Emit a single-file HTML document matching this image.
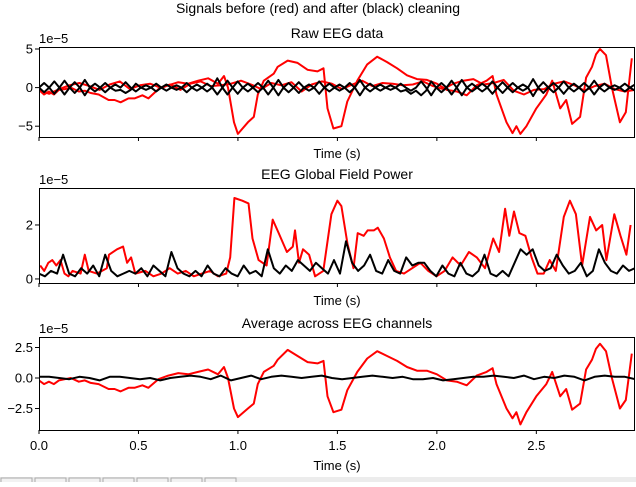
<!DOCTYPE html>
<html><head><meta charset="utf-8"><style>
body{margin:0;background:#fff;width:636px;height:482px;overflow:hidden;font-family:"Liberation Sans",sans-serif}
svg text{font-family:"Liberation Sans",sans-serif;fill:#000}
</style></head><body>
<svg id="c" width="636" height="482" xmlns="http://www.w3.org/2000/svg"></svg>
<script>
// ---- data ----
const avgRedT=[0,0.025,0.05,0.075,0.1,0.13,0.16,0.2,0.23,0.26,0.3,0.35,0.38,0.41,0.45,0.48,0.52,0.55,0.6,0.65,0.7,0.75,0.8,0.85,0.9,0.93,0.95,0.98,1.0,1.05,1.08,1.1,1.13,1.18,1.2,1.25,1.3,1.35,1.4,1.43,1.45,1.48,1.52,1.55,1.6,1.65,1.7,1.75,1.8,1.85,1.9,1.95,2.0,2.05,2.1,2.15,2.2,2.25,2.28,2.3,2.35,2.38,2.4,2.42,2.45,2.5,2.55,2.58,2.62,2.65,2.68,2.72,2.75,2.78,2.8,2.82,2.85,2.88,2.92,2.95,2.98];
const avgRedV=[-0.2,-0.5,-0.3,-0.5,-0.2,-0.1,0,-0.3,-0.2,-0.4,-0.5,-0.9,-0.9,-1.1,-0.8,-0.8,-0.6,-0.8,-0.1,0.2,0.4,0.3,0.5,0.7,0.3,0.9,0,-2.5,-3.2,-2.5,-2.1,-0.5,0.5,1.0,1.5,2.3,1.8,1.3,1.2,1.4,-1.5,-2.8,-2.6,-1.0,0.5,1.6,2.2,1.8,1.4,0.9,0.6,0.6,0.3,-0.2,-0.3,-0.6,0.2,0.5,0.8,-0.5,-2.5,-3.3,-2.8,-3.8,-2.8,-1.5,-0.5,0.5,-1.5,-0.9,-2.6,-2.1,0.7,1.5,2.4,2.8,2.2,0,-2.5,-1.8,2.0];
const avgBlackV=[0.1,0.1,0,-0.1,0.1,0,-0.2,0.1,0.1,0,-0.1,0,-0.2,0,0.1,0.2,0.1,-0.1,0.2,-0.2,0,0.2,-0.1,0.1,0.2,0.1,0,0.1,0.2,0,-0.1,0,0.1,0.2,0.1,0,0.1,-0.1,-0.1,0,-0.2,-0.1,0,0.1,0.1,0.2,0.1,0,0.2,-0.1,0.1,0,0.2,0.1,-0.2,0.1,0.2,0.1,0.1,-0.1];
const gfpRedT=[0.006,0.026,0.047,0.067,0.087,0.108,0.128,0.148,0.169,0.209,0.23,0.25,0.291,0.341,0.352,0.392,0.423,0.443,0.463,0.484,0.535,0.575,0.616,0.657,0.697,0.738,0.778,0.819,0.86,0.9,0.941,0.961,0.982,1.022,1.053,1.073,1.104,1.144,1.175,1.205,1.246,1.276,1.287,1.307,1.327,1.358,1.388,1.429,1.47,1.5,1.52,1.551,1.581,1.602,1.632,1.652,1.683,1.703,1.734,1.764,1.795,1.835,1.876,1.917,1.957,1.998,2.039,2.079,2.12,2.161,2.201,2.242,2.283,2.313,2.343,2.364,2.388,2.415,2.445,2.476,2.506,2.537,2.567,2.598,2.638,2.669,2.699,2.73,2.77,2.801,2.831,2.852,2.892,2.923,2.953,2.974];
const gfpRedV=[0.5,0.3,0.6,0.7,0.5,0.7,0.2,0.1,0.3,0.2,0.9,0.3,0.2,0.4,0.9,1.1,1.2,0.6,0.8,0.2,0.3,0.1,0.2,0.4,0.2,0.3,0.1,0.2,0.3,0.1,0.2,0.8,3.0,2.9,2.8,1.5,0.7,0.5,2.2,1.7,1.0,1.2,1.8,0.6,1.1,0.9,0.1,0.3,2.4,2.9,2.7,1.3,0.4,1.7,1.6,1.8,1.8,1.9,1.5,0.8,0.3,0.2,0.4,0.6,0.3,0.1,0.3,0.8,0.5,1.0,0.8,0.4,1.5,1.0,2.6,1.6,2.5,1.7,1.6,0.8,0.2,0.2,0.7,0.3,2.3,2.9,2.4,0.5,2.3,1.8,2.0,0.7,2.4,1.6,0.9,2.0];
const gfpBlackV=[0.2,0.1,0.3,0.2,0.9,0.2,0.1,0.4,0.2,0.5,0.1,0.9,0.3,0.1,0.2,0.3,0.2,0.4,0.1,0.5,0.3,0.1,1.0,0.4,0.2,0.1,0.3,0.1,0.5,0.2,0.1,0.4,0.2,0.1,0.5,0.2,0.3,0.1,1.1,0.4,0.2,0.5,0.3,0.7,0.5,0.3,0.6,0.4,0.2,0.7,0.2,1.4,0.6,0.3,0.5,0.9,0.3,0.2,0.7,0.3,0.2,0.8,0.5,0.6,0.6,0.3,0.1,0.5,0.2,0.1,0.6,0.2,0.1,0.3,0.9,0.2,0.1,0.3,0.1,0.6,1.1,0.9,1.1,0.5,0.3,0.4,0.9,0.5,0.2,0.3,0.6,0.1,0.3,1.1,0.6,0.3,0.2,0.5,0.3,0.4];
const rawRed1T=avgRedT;
const rawRed1V=[-0.3,-0.9,-0.5,-0.9,-0.3,-0.2,0,-0.5,-0.4,-0.7,-0.9,-1.6,-1.6,-1.9,-1.4,-1.4,-1.0,-1.4,-0.2,0.3,0.7,0.5,0.9,1.2,0.5,1.5,0,-4.5,-6.0,-4.5,-3.8,-0.9,0.9,1.8,2.7,3.5,3.2,2.3,2.1,2.5,-2.7,-5.3,-5.0,-1.8,0.9,3.0,4.0,3.3,2.5,1.6,1.1,1.0,0.5,-0.3,-0.5,-1.0,0.3,0.9,1.5,-0.9,-4.5,-5.9,-5.0,-6.0,-5.0,-2.7,-0.9,0.9,-2.7,-1.6,-4.7,-3.8,1.3,2.7,4.3,5.0,4.2,0,-4.5,-3.2,3.8];
const rawRed2V=[-0.3,-0.8,-0.2,0.3,0.6,0.2,-0.3,0.4,0.8,-0.2,0.3,0.5,0,0.4,-0.3,0.5,0.8,0.2,0.3,0.5,0.9,0.4,-0.2,0.6,0.3,0.7,-0.5,0.4,0.8,0.5,-0.2,0.4,0.9,0.2,0.6,0.5,0.3,0.4,0.8,0.2,-0.2,0.5,0.9,1.1,0.4,0.6,1.0,-0.4,-0.9,-0.3,-0.2,0.5,0.8,0.3,-0.4,0.2,0.5,-0.2,-0.5,-0.3];
const rawBlackA=[0,0.6,0,-0.8,0,0.9,0,-0.7,0,1.0,0,0.5,0,-0.6,0,0.4,0,0.7,0,-0.5,0,0.3,0,0.5,0,-0.4,0,0.3,0,0.6,0,-0.4,0,0.5,0,1.2,0,-0.9,0,0.8,0,-0.5,0,0.6,0,-0.9,0,1.0,0,0.6,0,-0.7,0,0.4,0,-0.8,0,0.5,0,0.4,0,-0.6,0,1.0,0,-0.5,0,0.4,0,0.3,0,0.5,0,-0.4,0,0.8,0,-1.0,0,0.6,0,-0.9,0,1.0,0,0.5,0,-0.5,0,0.8,0,-0.7,0,0.6,0,-0.4,0,1.1,0,0.7,0,-0.6,0,0.8,0,-0.5,0,0.6,0,-0.9,0,0.5,0,0.3,0,-0.5,0,0.4];
const rawBlackB=[0,-0.6,0,0.8,0,-0.9,0,0.7,0,-1.0,0,-0.5,0,0.6,0,-0.4,-0.3,-0.7,-0.3,0.5,0,-0.3,0,-0.5,0,0.4,0,-0.3,0,-0.6,0,0.4,0,-0.5,0,-0.9,0,0.9,0,-0.8,0,0.5,0,-0.6,0,0.9,0,-1.0,0,-0.6,0,0.7,0,-0.4,0,0.8,0,-0.5,0,-0.4,0,0.6,0,-1.0,0,0.5,0,-0.4,0,-0.3,0,-0.5,-0.3,-0.8,-0.4,-1.0,-0.4,0.8,0,-0.6,0,0.9,0,-1.0,0,-0.5,0,0.5,0,-0.8,0,0.7,0,-0.6,0,0.4,0,-1.1,0,-0.7,0,0.6,0,-0.8,0,0.5,0,-0.6,0,0.9,0,-0.5,0,-0.3,0,0.5,0,-0.4];
const xTickVals=[0,0.5,1.0,1.5,2.0,2.5];
const xTickLabels=["0.0","0.5","1.0","1.5","2.0","2.5"];

// ---- drawing ----
const NS="http://www.w3.org/2000/svg",svg=document.getElementById('c');
const L=39,R=635,TMAX=2.996;
const xs=t=>L+(t/TMAX)*(R-L);
function mk(tag,at,parent){const e=document.createElementNS(NS,tag);for(const k in at)e.setAttribute(k,at[k]);(parent||svg).appendChild(e);return e;}
function txt(s,x,y,size,anchor,name){const e=mk('text',{x:x,y:y,'font-size':size,'text-anchor':anchor||'middle'});e.textContent=s;


return e;}
function evenT(n){const a=[];for(let i=0;i<n;i++)a.push(i*TMAX/(n-1));return a;}
function panel(o){
  const g=mk('g',{});
  
  
  const ys=v=>o.bot-(v-o.ymin)/(o.ymax-o.ymin)*(o.bot-o.top);
  const clipId='cl'+o.top;
  const cp=mk('clipPath',{id:clipId},g);mk('rect',{x:L,y:o.top,width:R-L,height:o.bot-o.top},cp);
  o.series.forEach(s=>{
    const d=s.v.map((v,i)=>(i?'L':'M')+xs(s.t[i]).toFixed(1)+','+ys(v).toFixed(1)).join('');
    const p=mk('path',{d:d,fill:'none',stroke:s.c,'stroke-width':2,'stroke-linejoin':'round','clip-path':'url(#'+clipId+')'},g);
    
    
  });
  const fr=mk('rect',{x:L+0.5,y:o.top+0.5,width:R-L-1,height:o.bot-o.top,fill:'none',stroke:'#000','stroke-width':1},g);
  
  
  xTickVals.forEach((t,i)=>{
    mk('line',{x1:xs(t),x2:xs(t),y1:o.bot,y2:o.bot+4,stroke:'#000'},g);
    if(o.labels)txt(xTickLabels[i],xs(t),o.bot+20,13,'middle','x-tick-label');
  });
  o.yt.forEach((v,i)=>{
    mk('line',{x1:L-4,x2:L,y1:ys(v),y2:ys(v),stroke:'#000'},g);
    txt(o.ytl[i],L-6,ys(v)+4.5,13,'end','y-tick-label');
  });
  txt('1e\u22125',L,o.top-4,13,'start','y-offset-label');
  txt(o.title,337,o.top-9,14,'middle','subplot-title');
  txt('Time (s)',337,o.xlab,13,'middle','x-axis-title');
}
txt('Signals before (red) and after (black) cleaning',318,13,14,'middle','figure-title');
panel({name:'raw-eeg-panel',title:'Raw EEG data',top:47,bot:137,ymin:-6.4,ymax:5.26,yt:[5,0,-5],ytl:['5','0','\u22125'],xlab:158,labels:false,
 series:[{t:rawRed1T,v:rawRed1V,c:'#ff0000',name:'raw-red-channel-1'},{t:evenT(rawRed2V.length),v:rawRed2V,c:'#ff0000',name:'raw-red-channel-2'},
 {t:evenT(rawBlackA.length),v:rawBlackA,c:'#000',name:'raw-black-channel-1'},{t:evenT(rawBlackB.length),v:rawBlackB,c:'#000',name:'raw-black-channel-2'}]});
panel({name:'gfp-panel',title:'EEG Global Field Power',top:188,bot:283,ymin:-0.15,ymax:3.37,yt:[2,0],ytl:['2','0'],xlab:305,labels:false,
 series:[{t:gfpRedT,v:gfpRedV,c:'#ff0000',name:'gfp-before'},{t:evenT(gfpBlackV.length),v:gfpBlackV,c:'#000',name:'gfp-after'}]});
panel({name:'average-panel',title:'Average across EEG channels',top:337,bot:430,ymin:-4.26,ymax:3.36,yt:[2.5,0,-2.5],ytl:['2.5','0.0','\u22122.5'],xlab:470,labels:true,
 series:[{t:avgRedT,v:avgRedV,c:'#ff0000',name:'average-before'},{t:evenT(avgBlackV.length),v:avgBlackV,c:'#000',name:'average-after'}]});
// toolbar strip
const tb=mk('rect',{x:0,y:477,width:636,height:5,fill:'#ececec'});


for(let i=0;i<7;i++){const b=mk('rect',{x:1+i*34,y:478,width:31,height:6,fill:'#f2f2f2',stroke:'#aaa'});

}
</script>
</body></html>
